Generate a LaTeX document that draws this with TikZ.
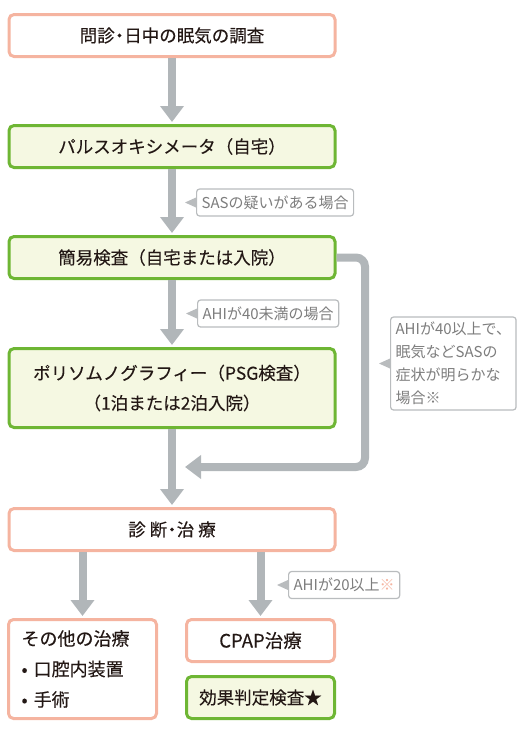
\documentclass[tikz,border=0pt]{standalone}
\usepackage{fontspec}
\setmainfont{Noto Sans CJK JP}
\newfontfamily\boxfont{Noto Sans CJK JP}[FakeBold=0.2]
\usepackage{tikz}
\usetikzlibrary{arrows.meta}
\usetikzlibrary{calc}

\definecolor{salmon}{RGB}{245,180,160}
\definecolor{leaf}{RGB}{110,182,52}
\definecolor{leaffill}{RGB}{245,248,226}
\definecolor{arrowgray}{RGB}{177,182,185}
\definecolor{notegray}{RGB}{185,188,190}
\definecolor{notetext}{RGB}{125,125,125}
\definecolor{ink}{RGB}{35,24,21}

\tikzset{
  box/.style={rounded corners=5pt, line width=3pt, minimum width=326pt,
    minimum height=42pt, text=ink, align=center,
    font=\boxfont\fontsize{17.5}{30}\selectfont},
  pinkbox/.style={box, draw=salmon, fill=white},
  greenbox/.style={box, draw=leaf, fill=leaffill},
  flow/.style={draw=arrowgray, line width=8pt, shorten >=2pt,
    -{Triangle[width=23pt,length=16pt]}},
  note/.style={draw=notegray, line width=1.2pt, rounded corners=3pt,
    fill=white, text=notetext, anchor=west, inner xsep=5pt,
    minimum height=27pt, font=\fontsize{15}{23}\selectfont},
}

\begin{document}
\begin{tikzpicture}[x=1pt, y=-1pt]
      \path[use as bounding box] (0, 0) rectangle (522, 748);

      % main column
      \node[pinkbox]  (ask)  at (172, 35.5)  {問診\kern-4pt・\kern-4pt日中の眠気の調査};
      \node[greenbox] (oxi)  at (172, 146.5) {パルスオキシメータ（自宅）};
      \node[greenbox] (easy) at (172, 257.5) {簡易検査（自宅または入院）};
      \node[greenbox, minimum height=79pt] (psg) at (172, 388)
        {ポリソムノグラフィー（PSG検査）\\（1泊または2泊入院）};
      \node[pinkbox]  (diag) at (172, 529.5)
        {診\hspace{4pt}断\kern-4pt・\kern-4pt治\hspace{4pt}療};

      % treatments
      \node[pinkbox, minimum width=148pt, minimum height=99pt,
        text width=122pt, align=left, font=\boxfont\fontsize{18}{30.5}\selectfont]
        (other) at (82.5, 669) {その他の治療\\• 口腔内装置\\• 手術};
      \node[pinkbox, minimum width=148pt, font=\boxfont\fontsize{18.5}{30}\selectfont]
        (cpap) at (260.5, 640.5) {CPAP治療};
      \node[greenbox, minimum width=148pt] (check) at (260.5, 697.5) {効果判定検査★};

      % arrows
      \draw[flow] (ask) -- (oxi);
      \draw[flow] (oxi) -- (easy);
      \draw[flow] (easy) -- (psg);
      \draw[flow] (psg) -- (diag);
      \draw[flow] (other.north |- diag.south) -- (other.north);
      \draw[flow] (cpap.north |- diag.south) -- (cpap.north);

      \coordinate (turn) at (365, 257.5);
      \coordinate (join) at (185, 467);
      \draw[flow, shorten >=0pt, rounded corners=9pt] (easy.east) -- (turn) |- (join);

      % conditions
      \node[note] (sas) at (196, 202.5) {SASの疑いがある場合};
      \node[note] (lt40) at (197, 313.5) {AHIが40未満の場合};
      \node[note, align=left, minimum height=93pt] (ge40) at (390, 363.5)
        {AHIが40以上で、\\眠気などSASの\\症状が明らかな\\場合※};
      \node[note] (ge20) at (288, 585) {AHIが20以上\textcolor{salmon}{※}};

      \foreach \n in {sas, lt40, ge40, ge20} {
        \fill[notegray] (\n.west) ++(0, 5) -- ++(-11, -5) -- ++(11, -5) -- cycle;
      }
\end{tikzpicture}
\end{document}
